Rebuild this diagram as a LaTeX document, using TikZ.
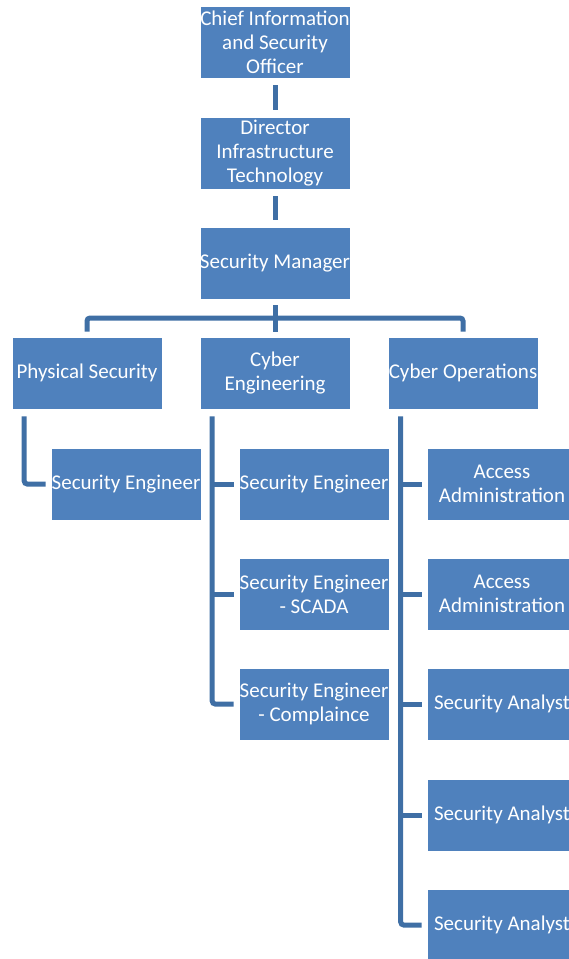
\documentclass[tikz,border=0pt]{standalone}
\usepackage{fontspec}
\setmainfont{Carlito}
\usetikzlibrary{calc}
\definecolor{boxblue}{HTML}{4F81BD}
\definecolor{lineblue}{HTML}{3F6FA5}
\tikzset{
  orgbox/.style={fill=boxblue, draw=white, line width=0.6pt, minimum width=150pt, minimum height=72pt,
    inner sep=0pt, align=center, text=white, font=\fontsize{21}{23.8}\selectfont},
  conn/.style={draw=lineblue, line width=5pt, rounded corners=3pt}
}
\begin{document}
\begin{tikzpicture}[x=1pt,y=-1pt]
\useasboundingbox (0,0) rectangle (569,959);
% level 1-3
\node[orgbox] (ciso) at (275,42) {Chief Information\\and Security\\Officer};
\node[orgbox] (dir) at (275,153) {Director\\Infrastructure\\Technology};
\node[orgbox] (mgr) at (275,263) {Security Manager};
\node[orgbox] (phys) at (87,373) {Physical Security};
\node[orgbox] (ceng) at (275,373) {Cyber\\Engineering};
\node[orgbox] (cops) at (463,373) {Cyber Operations};
% children
\node[orgbox] (pse) at (126,484) {Security Engineer};
\node[orgbox] (ce1) at (314,484) {Security Engineer};
\node[orgbox] (ce2) at (314,594) {Security Engineer\\- SCADA};
\node[orgbox] (ce3) at (314,704) {Security Engineer\\- Complaince};
\node[orgbox] (co1) at (502,484) {Access\\Administration};
\node[orgbox] (co2) at (502,594) {Access\\Administration};
\node[orgbox] (co3) at (502,704) {Security Analyst};
\node[orgbox] (co4) at (502,815) {Security Analyst};
\node[orgbox] (co5) at (502,925) {Security Analyst};
% connectors
\draw[conn, shorten <=7pt, shorten >=7pt] (ciso) -- (dir);
\draw[conn, shorten <=7pt, shorten >=7pt] (dir) -- (mgr);
\coordinate (bus) at (275,318);
\draw[conn] ([yshift=-6pt]mgr.south) -- ([yshift=5pt]ceng.north);
\draw[conn] ([yshift=5pt]phys.north) |- (bus) -| ([yshift=5pt]cops.north);
% physical security
\coordinate (pT) at ([xshift=12.5pt,yshift=-7pt]phys.south west);
\draw[conn] (pT) |- ([xshift=-5pt]pse.west);
% cyber engineering
\coordinate (cT) at ([xshift=12.5pt,yshift=-7pt]ceng.south west);
\draw[conn] (cT) |- ([xshift=-5pt]ce3.west);
\draw[conn] (cT |- ce1.west) -- ([xshift=-5pt]ce1.west);
\draw[conn] (cT |- ce2.west) -- ([xshift=-5pt]ce2.west);
% cyber operations
\coordinate (oT) at ([xshift=13pt,yshift=-7pt]cops.south west);
\draw[conn] (oT) |- ([xshift=-5pt]co5.west);
\draw[conn] (oT |- co1.west) -- ([xshift=-5pt]co1.west);
\draw[conn] (oT |- co2.west) -- ([xshift=-5pt]co2.west);
\draw[conn] (oT |- co3.west) -- ([xshift=-5pt]co3.west);
\draw[conn] (oT |- co4.west) -- ([xshift=-5pt]co4.west);
\end{tikzpicture}
\end{document}
